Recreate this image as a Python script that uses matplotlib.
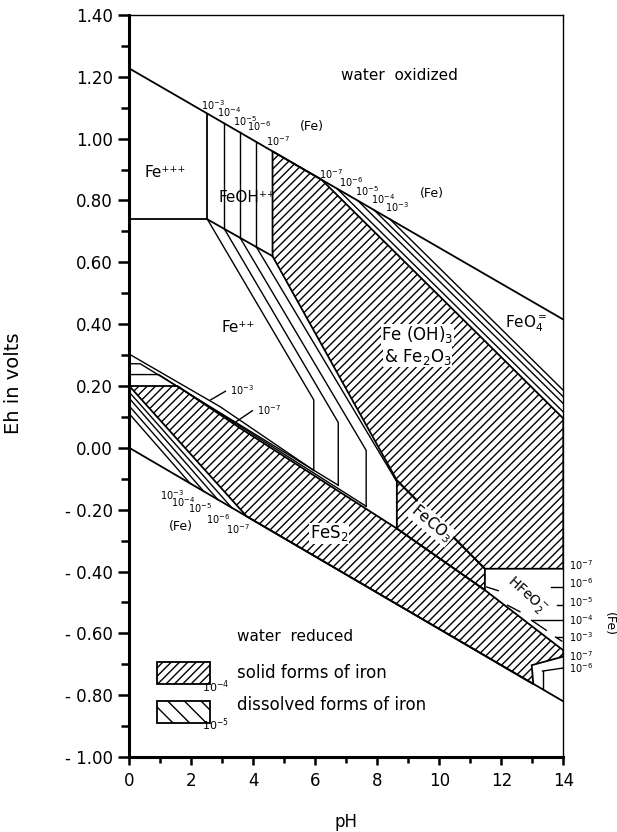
import numpy as np
import matplotlib
matplotlib.use("Agg")
import matplotlib.pyplot as plt
from matplotlib.patches import Polygon, Rectangle
from matplotlib.ticker import MultipleLocator, FuncFormatter

plt.rcParams['hatch.linewidth'] = 1.0
plt.rcParams['font.family'] = ['DejaVu Sans']

# Limites de estabilidad del agua (pH, Eh)
water_ox_ph = [0, 14]
water_ox_eh = [1.227, 0.415]
water_red_ph = [0, 14]
water_red_eh = [0.0, -0.82]

# Fe+++ / Fe++ y campo FeOH++ (10-3 ... 10-7)
ferric_eh = 0.739
feoh_ph = [2.52, 3.06, 3.57, 4.09, 4.62]
feoh_low_eh = [0.739, 0.709, 0.680, 0.651, 0.620]

# Fe++ / Fe(OH)3 disueltos: punto donde se hacen verticales y su pie
ferrous_bend_ph = [5.95, 6.74, 7.64]
ferrous_bend_eh = [0.155, 0.082, -0.008]
ferrous_foot_eh = [-0.073, -0.121, -0.189]
ferrous_10m6_end = (8.63, -0.11)

# Fe(OH)3 solido
hydroxide_corner = (8.63, -0.105)

# Fe(OH)3 / FeO4= (10-7 ... 10-3)
ferrate_start_ph = [6.2, 6.7, 7.37, 7.9, 8.41]
ferrate_end_eh = [0.095, 0.116, 0.143, 0.165, 0.186]

# FeS2 borde superior y lineas disueltas encima
pyrite_top_ph = [0, 1.55, 3.57, 8.63, 11.47, 14.0]
pyrite_top_eh = [0.20, 0.20, 0.064, -0.261, -0.46, -0.655]
s3_ph = [0, 2.93, 5.95]
s3_eh = [0.303, 0.133, -0.073]
s4_ph = [0, 0.35, 6.74]
s4_eh = [0.272, 0.272, -0.121]
s5_ph = [0, 0.95, 7.64]
s5_eh = [0.237, 0.237, -0.189]

# Fe / Fe++ (10-3 ... 10-7)
iron_start_eh = [0.11, 0.135, 0.16, 0.18, 0.20]
iron_end_ph = [1.96, 2.4, 2.85, 3.3, 3.79]

# FeCO3 y HFeO2-
siderite_ph = [8.63, 11.47, 11.47, 8.63]
siderite_eh = [-0.105, -0.391, -0.46, -0.261]
hfeo2_top_eh = -0.391
hfeo2_eh = [-0.45, -0.509, -0.558, -0.612]
hfeo2_tick_ph = [13.6, 13.78, 12.98, 13.78]
hfeo2_dash = [((11.53, -0.45), (11.9, -0.462)), ((12.2, -0.509), (12.6, -0.53)),
              ((12.98, -0.558), (13.45, -0.59)), ((13.75, -0.612), (13.95, -0.625))]
pocket_ph = [14.0, 12.98, 13.03]
pocket_eh = [-0.675, -0.703, -0.764]


def w_ox(p):
    return np.interp(p, water_ox_ph, water_ox_eh)


def w_red(p):
    return np.interp(p, water_red_ph, water_red_eh)


fig = plt.figure(figsize=(6.17, 8.32), dpi=100)
ax = fig.add_axes([0.2096, 0.0901, 0.7034, 0.8919])
ax.set_xlim(0, 14)
ax.set_ylim(-1.0, 1.4)

K = 'black'
LW = 1.3
LT = 1.0
HATCH = '////'

# agua
ax.plot(water_ox_ph, water_ox_eh, color=K, lw=LW)
ax.plot(water_red_ph, water_red_eh, color=K, lw=LW)

# Fe+++ / Fe++
ax.plot([0, feoh_ph[0]], [ferric_eh, ferric_eh], color=K, lw=LW)
ax.plot([feoh_ph[0], feoh_ph[-1]], [feoh_low_eh[0], feoh_low_eh[-1]], color=K, lw=LW)
for p, e in zip(feoh_ph[:-1], feoh_low_eh[:-1]):
    ax.plot([p, p], [e, w_ox(p)], color=K, lw=LT if p != feoh_ph[0] else LW)

# Fe++ / Fe(OH)3 lineas disueltas
for p0, e0, p1, e1, f in zip(feoh_ph[:3], feoh_low_eh[:3], ferrous_bend_ph,
                             ferrous_bend_eh, ferrous_foot_eh):
    ax.plot([p0, p1, p1], [e0, e1, f], color=K, lw=LT)
ax.plot([feoh_ph[3], ferrous_10m6_end[0]], [feoh_low_eh[3], ferrous_10m6_end[1]], color=K, lw=LT)

# Fe(OH)3 solido
hyd = [(feoh_ph[-1], w_ox(feoh_ph[-1])), (ferrate_start_ph[0], w_ox(ferrate_start_ph[0])),
       (14, ferrate_end_eh[0]), (14, hfeo2_top_eh), (siderite_ph[1], hfeo2_top_eh),
       hydroxide_corner, (feoh_ph[-1], feoh_low_eh[-1])]
ax.add_patch(Polygon(hyd, closed=True, facecolor='none', edgecolor=K, lw=LW, hatch=HATCH))

# FeO4= lineas disueltas
for p, e in zip(ferrate_start_ph[1:], ferrate_end_eh[1:]):
    ax.plot([p, 14], [w_ox(p), e], color=K, lw=LT)

# FeCO3
ax.add_patch(Polygon(list(zip(siderite_ph, siderite_eh)), closed=True, facecolor='none',
                     edgecolor=K, lw=LW, hatch=HATCH))

# FeS2 solido
pyr = list(zip(pyrite_top_ph, pyrite_top_eh))
pyr += list(zip(pocket_ph, pocket_eh))
pyr += [(iron_end_ph[-1], w_red(iron_end_ph[-1])), (0, iron_start_eh[-1])]
ax.add_patch(Polygon(pyr, closed=True, facecolor='none', edgecolor=K, lw=LW, hatch=HATCH))

# Fe++ / FeS2 disueltas
for xs, ys in [(s3_ph, s3_eh), (s4_ph, s4_eh), (s5_ph, s5_eh)]:
    ax.plot(xs, ys, color=K, lw=LT)

# Fe / Fe++ disueltas
for e, p in zip(iron_start_eh[:-1], iron_end_ph[:-1]):
    ax.plot([0, p], [e, w_red(p)], color=K, lw=LT)

# HFeO2- marcas
for e, p in zip(hfeo2_eh, hfeo2_tick_ph):
    ax.plot([p, 14], [e, e], color=K, lw=LT)
for a, b in hfeo2_dash:
    ax.plot([a[0], b[0]], [a[1], b[1]], color=K, lw=LT)
ax.plot([13.33, 14], [-0.722, -0.712], color=K, lw=LT)
ax.plot([13.33, 13.33], [-0.722, w_red(13.33)], color=K, lw=LT)

# leyenda
ax.add_patch(Rectangle((0.89, -0.765), 1.71, 0.073, facecolor='none', edgecolor=K,
                       lw=LW, hatch=HATCH))
ax.add_patch(Rectangle((0.89, -0.890), 1.71, 0.071, facecolor='none', edgecolor=K,
                       lw=LW, hatch='\\\\'))
ax.text(2.35, -0.772, '$10^{-4}$', fontsize=8, ha='left', va='center')
ax.text(2.35, -0.897, '$10^{-5}$', fontsize=8, ha='left', va='center')
ax.text(3.47, -0.729, 'solid forms of iron', fontsize=12, va='center')
ax.text(3.47, -0.833, 'dissolved forms of iron', fontsize=12, va='center')

# rotulos de campos
bb = dict(facecolor='white', edgecolor='none', pad=0.5)
ax.text(8.7, 1.205, 'water  oxidized', fontsize=11, ha='center', va='center')
ax.text(5.35, -0.61, 'water  reduced', fontsize=11, ha='center', va='center')
ax.text(1.15, 0.89, 'Fe⁺⁺⁺', fontsize=11, ha='center', va='center')
ax.text(3.8, 0.81, 'FeOH⁺⁺', fontsize=11, ha='center', va='center')
ax.text(3.5, 0.39, 'Fe⁺⁺', fontsize=11, ha='center', va='center')
ax.text(9.3, 0.365, 'Fe (OH)$_3$', fontsize=12, ha='center', va='center', bbox=bb)
ax.text(9.3, 0.295, '& Fe$_2$O$_3$', fontsize=12, ha='center', va='center', bbox=bb)
ax.text(12.8, 0.40, 'FeO$_4^{=}$', fontsize=11, ha='center', va='center')
ax.text(6.45, -0.277, 'FeS$_2$', fontsize=12, ha='center', va='center', bbox=bb)
ax.text(9.75, -0.245, 'FeCO$_3$', fontsize=11, ha='center', va='center', rotation=-40,
        bbox=bb)
ax.text(12.8, -0.477, 'HFeO$_2^{-}$', fontsize=10, ha='center', va='center', rotation=-42)

# concentraciones
conc = ['$10^{-3}$', '$10^{-4}$', '$10^{-5}$', '$10^{-6}$', '$10^{-7}$']
CF = 7
for t, p, e in zip(conc, [2.7, 3.21, 3.72, 4.17, 4.8], [1.109, 1.085, 1.058, 1.040, 0.992]):
    ax.text(p, e, t, fontsize=CF, ha='center', va='center')
ax.text(5.89, 1.04, '(Fe)', fontsize=9, ha='center', va='center')
for t, p, e in zip(conc[::-1], [6.52, 7.16, 7.67, 8.2, 8.65], [0.885, 0.86, 0.83, 0.805, 0.779]):
    ax.text(p, e, t, fontsize=CF, ha='center', va='center')
ax.text(9.77, 0.824, '(Fe)', fontsize=9, ha='center', va='center')
for t, p, e in zip(conc, [1.37, 1.74, 2.28, 2.87, 3.49], [-0.153, -0.175, -0.196, -0.229, -0.264]):
    ax.text(p, e, t, fontsize=CF, ha='center', va='center')
ax.text(1.66, -0.256, '(Fe)', fontsize=9, ha='center', va='center')
ax.text(3.62, 0.186, conc[0], fontsize=CF, ha='center', va='center')
ax.plot([2.62, 3.1], [0.155, 0.183], color=K, lw=LT)
ax.text(4.5, 0.122, conc[4], fontsize=CF, ha='center', va='center')
ax.plot([3.45, 3.97], [0.085, 0.12], color=K, lw=LT)
right_labels = [conc[4], conc[3], conc[2], conc[1], conc[0], conc[4], conc[3]]
right_eh = [-0.38, -0.439, -0.499, -0.556, -0.612, -0.672, -0.712]
for t, e in zip(right_labels, right_eh):
    ax.text(14.18, e, t, fontsize=CF, ha='left', va='center', clip_on=False)
ax.text(15.5, -0.569, '(Fe)', fontsize=9, ha='center', va='center', rotation=270,
        clip_on=False)

# ejes
for s in ['left', 'bottom']:
    ax.spines[s].set_linewidth(2.2)
for s in ['top', 'right']:
    ax.spines[s].set_linewidth(1.0)
ax.xaxis.set_major_locator(MultipleLocator(2))
ax.xaxis.set_minor_locator(MultipleLocator(1))
ax.yaxis.set_major_locator(MultipleLocator(0.2))
ax.yaxis.set_minor_locator(MultipleLocator(0.1))


def eh_fmt(v, pos):
    v = round(v, 2)
    if v < 0:
        return '- %.2f' % abs(v)
    return '%.2f' % abs(v)


ax.yaxis.set_major_formatter(FuncFormatter(eh_fmt))
ax.tick_params(axis='y', which='major', direction='out', length=8, width=1.8,
               labelsize=12, pad=4)
ax.tick_params(axis='y', which='minor', direction='out', length=5.5, width=1.8)
ax.tick_params(axis='x', which='major', direction='out', length=6, width=1.8,
               labelsize=12, pad=5)
ax.tick_params(axis='x', which='minor', direction='out', length=4, width=1.8)

fig.text(346 / 617, 1 - 822 / 832, 'pH', fontsize=12, ha='center', va='center')
fig.text(14 / 617, 1 - 383 / 832, 'Eh in volts', fontsize=14, ha='center', va='center',
         rotation=90)

fig.savefig('out.png', dpi=100)
